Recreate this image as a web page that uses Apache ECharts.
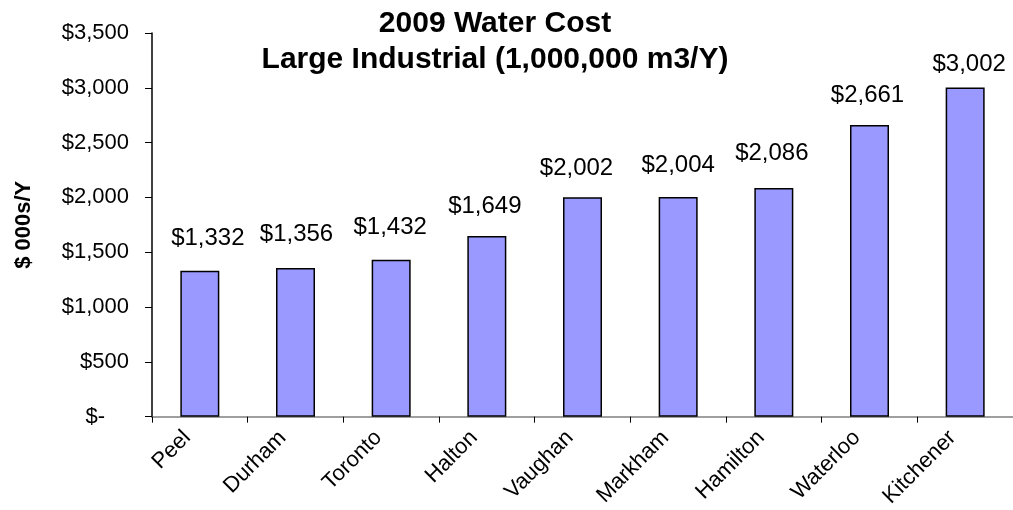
<!DOCTYPE html>
<html>
<head>
<meta charset="utf-8">
<script src="https://cdn.jsdelivr.net/npm/echarts@6/dist/echarts.min.js"></script>
<style>html,body{margin:0;padding:0;background:#fff;}#chart{width:1013px;height:510px;}</style>
</head>
<body>
<div id="chart"></div>
<script>
// ---- data ----
var categories = ['Peel', 'Durham', 'Toronto', 'Halton', 'Vaughan', 'Markham', 'Hamilton', 'Waterloo', 'Kitchener'];
var costValues = [1332, 1356, 1432, 1649, 2002, 2004, 2086, 2661, 3002];
var yTickValues = [0, 500, 1000, 1500, 2000, 2500, 3000, 3500];

// ---- label nudges (style only) ----
var labelNudges = [[8, -1], [1, -3], [-1, -1], [-2, 1], [-6, 2], [0, -1], [-2, -4], [-2, 1], [4, 8]];

var FONT = 'Liberation Sans, Arial, sans-serif';

function money(v) {
  if (v === 0) return '{z|$-}';
  return '$' + v.toString().replace(/\B(?=(\d{3})+(?!\d))/g, ',');
}

var chart = echarts.init(document.getElementById('chart'), null, {renderer: 'canvas'});
chart.setOption({
  animation: false,
  backgroundColor: '#ffffff',
  title: {
    text: '2009 Water Cost\nLarge Industrial (1,000,000 m3/Y)',
    left: 490,
    top: 1,
    textAlign: 'center',
    textStyle: {fontFamily: FONT, fontSize: 30, fontWeight: 'bold', color: '#000', lineHeight: 36}
  },
  grid: {left: 152, right: 0, top: 33, bottom: 92, containLabel: false},
  xAxis: {
    type: 'category',
    data: categories,
    axisLine: {lineStyle: {color: '#808080', width: 1.5}},
    axisTick: {show: true, length: 6, lineStyle: {color: '#000', width: 1}},
    axisLabel: {
      rotate: 45,
      margin: 5,
      padding: [0, 18, 0, 0],
      fontFamily: FONT,
      fontSize: 22,
      color: '#000'
    },
    splitLine: {show: false}
  },
  yAxis: {
    type: 'value',
    min: yTickValues[0],
    max: yTickValues[yTickValues.length - 1],
    interval: 500,
    name: '$ 000s/Y',
    nameLocation: 'middle',
    nameGap: 117,
    nameTextStyle: {fontFamily: FONT, fontSize: 22, fontWeight: 'bold', color: '#000'},
    axisLine: {show: true, lineStyle: {color: '#000', width: 1.5}},
    axisTick: {show: true, inside: false, length: 7, lineStyle: {color: '#000', width: 1}},
    splitLine: {show: false},
    axisLabel: {
      margin: 23,
      fontFamily: FONT,
      fontSize: 22,
      color: '#000',
      formatter: money,
      rich: {z: {fontFamily: FONT, fontSize: 22, color: '#000', padding: [0, 24, 0, 0]}}
    }
  },
  series: [{
    type: 'bar',
    data: costValues.map(function (v, i) {
      return {value: v, label: {offset: labelNudges[i]}};
    }),
    barWidth: 39,
    itemStyle: {color: '#9999FF', borderColor: '#000', borderWidth: 1.5},
    label: {
      show: true,
      position: 'top',
      distance: 19,
      fontFamily: FONT,
      fontSize: 24,
      color: '#000',
      formatter: function (p) { return money(p.value); }
    }
  }]
});
</script>
</body>
</html>
